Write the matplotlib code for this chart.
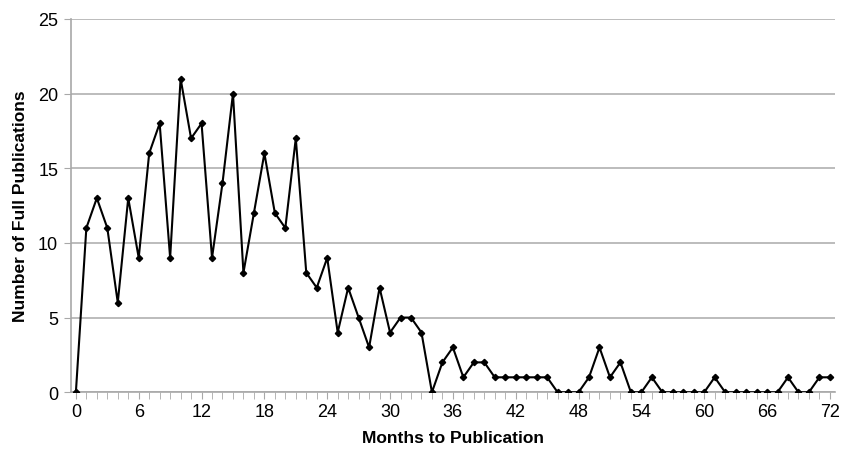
import matplotlib
matplotlib.use('Agg')
import matplotlib.pyplot as plt
import numpy as np

plt.rcParams['font.family'] = ['Liberation Sans', 'DejaVu Sans']

months = list(range(0, 73))
pubs = [0, 11, 13, 11, 6, 13, 9, 16, 18, 9,
        21, 17, 18, 9, 14, 20, 8, 12, 16, 12,
        11, 17, 8, 7, 9, 4, 7, 5, 3, 7,
        4, 5, 5, 4, 0, 2, 3, 1, 2, 2,
        1, 1, 1, 1, 1, 1, 0, 0, 0, 1,
        3, 1, 2, 0, 0, 1, 0, 0, 0, 0,
        0, 1, 0, 0, 0, 0, 0, 0, 1, 0,
        0, 1, 1]
xticks = list(range(0, 73, 6))
yticks = [0, 5, 10, 15, 20, 25]

fig = plt.figure(figsize=(8.41, 4.52), dpi=100)
ax = fig.add_axes([0.084, 0.13, 0.909, 0.826])

ax.plot(months, pubs, color='black', lw=1.5, marker='D', ms=3.2, zorder=3)

ax.set_xlim(-0.5, 72.5)
ax.set_ylim(0, 25)
ax.set_yticks(yticks)
ax.set_xticks(xticks)
ax.set_xticks(months, minor=True)
ax.yaxis.grid(True, color='#b0b0b0', lw=1.2)
ax.set_axisbelow(True)

for s in ['top', 'right']:
    ax.spines[s].set_visible(False)
for s in ['left', 'bottom']:
    ax.spines[s].set_color('#a8a8a8')
    ax.spines[s].set_linewidth(1.2)

ax.tick_params(axis='x', which='major', length=5, color='#a8a8a8', labelsize=13, pad=3)
ax.tick_params(axis='x', which='minor', length=5, color='#a8a8a8')
ax.tick_params(axis='y', length=5, color='#a8a8a8', labelsize=13, pad=4)

ax.set_xlabel('Months to Publication', fontsize=12.5, fontweight='bold', labelpad=7)
ax.set_ylabel('Number of Full Publications', fontsize=12.5, fontweight='bold', labelpad=7)

fig.savefig('out.png', dpi=100)
